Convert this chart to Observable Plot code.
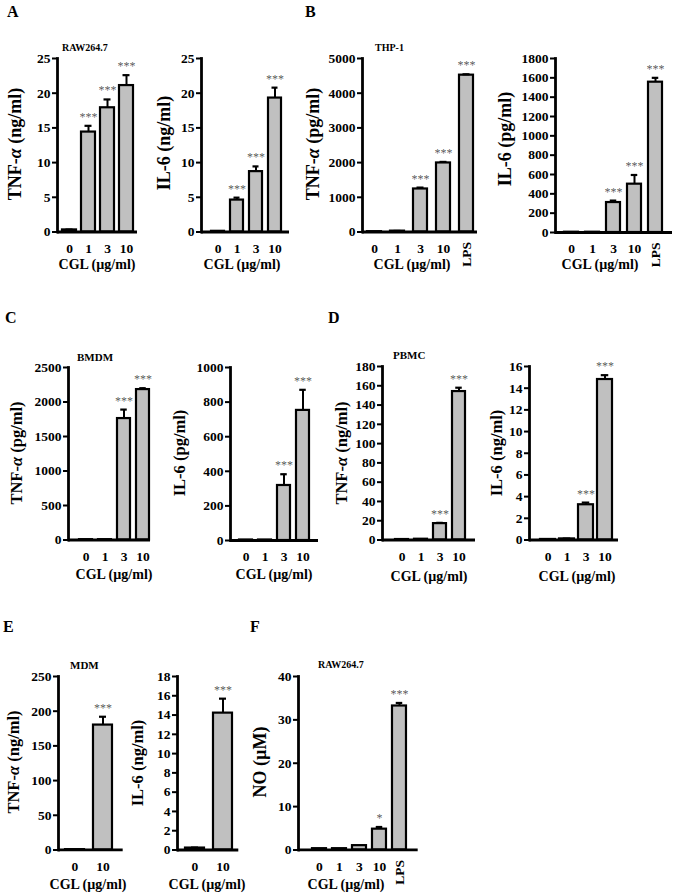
<!DOCTYPE html>
<html><head><meta charset="utf-8">
<script src="https://cdn.jsdelivr.net/npm/d3@7"></script>
<script src="https://cdn.jsdelivr.net/npm/@observablehq/plot@0.6"></script>
<style>
body{margin:0;background:#fff;}
#page{position:relative;width:675px;height:894px;overflow:hidden;background:#fff;font-family:'Liberation Serif','Times New Roman',serif;font-weight:bold;color:#000;}
#page svg{position:absolute;}
.t{position:absolute;white-space:nowrap;line-height:1;}
.yl{transform:translate(-50%,-50%) rotate(-90deg);}
.c{transform:translate(-50%,-50%);}
.l{transform:translateY(-50%);}
</style></head><body><div id="page"></div>
<script>
// ---------- data ----------
const dose4 = ["0","1","3","10"];
const dose5 = ["0","1","3","10","LPS"];
const dose2 = ["0","10"];

const aTnfMean = [0.3, 14.4, 17.9, 21.1];
const aTnfErr  = [0.05, 0.9, 1.2, 1.5];
const aTnfSig  = ["", "***", "***", "***"];
const aIl6Mean = [0.1, 4.6, 8.7, 19.3];
const aIl6Err  = [0, 0.35, 0.75, 1.5];
const aIl6Sig  = ["", "***", "***", "***"];

const bTnfMean = [10, 25, 1240, 1990, 4520];
const bTnfErr  = [0, 5, 40, 30, 25];
const bTnfSig  = ["", "", "***", "***", "***"];
const bIl6Mean = [3, 3, 310, 500, 1555];
const bIl6Err  = [0, 0, 20, 95, 45];
const bIl6Sig  = ["", "", "***", "***", "***"];

const cTnfMean = [5, 5, 1760, 2180];
const cTnfErr  = [0, 0, 130, 20];
const cTnfSig  = ["", "", "***", "***"];
const cIl6Mean = [3, 3, 318, 752];
const cIl6Err  = [0, 0, 65, 119];
const cIl6Sig  = ["", "", "***", "***"];

const dTnfMean = [0.5, 0.8, 17, 154];
const dTnfErr  = [0, 0, 0.8, 4];
const dTnfSig  = ["", "", "***", "***"];
const dIl6Mean = [0.05, 0.1, 3.25, 14.8];
const dIl6Err  = [0, 0.03, 0.2, 0.4];
const dIl6Sig  = ["", "", "***", "***"];

const eTnfMean = [0.5, 180];
const eTnfErr  = [0, 12];
const eTnfSig  = ["", "***"];
const eIl6Mean = [0.2, 14.2];
const eIl6Err  = [0.05, 1.5];
const eIl6Sig  = ["", "***"];

const fNoMean = [0.3, 0.3, 1.0, 4.8, 33.2];
const fNoErr  = [0, 0, 0, 0.5, 0.7];
const fNoSig  = ["", "", "", "*", "***"];

const ticks25   = [0, 5, 10, 15, 20, 25];
const ticks5000 = [0, 1000, 2000, 3000, 4000, 5000];
const ticks1800 = [0, 200, 400, 600, 800, 1000, 1200, 1400, 1600, 1800];
const ticks2500 = [0, 500, 1000, 1500, 2000, 2500];
const ticks1000 = [0, 200, 400, 600, 800, 1000];
const ticks180  = [0, 20, 40, 60, 80, 100, 120, 140, 160, 180];
const ticks16   = [0, 2, 4, 6, 8, 10, 12, 14, 16];
const ticks250  = [0, 50, 100, 150, 200, 250];
const ticks18   = [0, 2, 4, 6, 8, 10, 12, 14, 16, 18];
const ticks40   = [0, 10, 20, 30, 40];

// ---------- layout ----------
const charts = [
  {doses: dose4, mean: aTnfMean, err: aTnfErr, sig: aTnfSig, ticks: ticks25, axisX: 57, xEnd: 137, yTop: 58, y0: 231.5, first: 68, step: 19.5, bw: 14},
  {doses: dose4, mean: aIl6Mean, err: aIl6Err, sig: aIl6Sig, ticks: ticks25, axisX: 201, xEnd: 289, yTop: 58, y0: 231.5, first: 216.5, step: 19.8, bw: 14},
  {doses: dose5, mean: bTnfMean, err: bTnfErr, sig: bTnfSig, ticks: ticks5000, axisX: 362, xEnd: 477, yTop: 58, y0: 231.5, first: 372.5, step: 23.5, bw: 14},
  {doses: dose5, mean: bIl6Mean, err: bIl6Err, sig: bIl6Sig, ticks: ticks1800, axisX: 555, xEnd: 672, yTop: 58, y0: 232, first: 570.5, step: 21.3, bw: 14.5},
  {doses: dose4, mean: cTnfMean, err: cTnfErr, sig: cTnfSig, ticks: ticks2500, axisX: 68, xEnd: 150, yTop: 367, y0: 539.5, first: 85, step: 19.2, bw: 13.5},
  {doses: dose4, mean: cIl6Mean, err: cIl6Err, sig: cIl6Sig, ticks: ticks1000, axisX: 230, xEnd: 318, yTop: 367, y0: 540, first: 244.5, step: 19.8, bw: 13.5},
  {doses: dose4, mean: dTnfMean, err: dTnfErr, sig: dTnfSig, ticks: ticks180, axisX: 382, xEnd: 475, yTop: 366, y0: 539.5, first: 401, step: 19.5, bw: 13.5},
  {doses: dose4, mean: dIl6Mean, err: dIl6Err, sig: dIl6Sig, ticks: ticks16, axisX: 529, xEnd: 618, yTop: 366, y0: 539.5, first: 547.5, step: 19, bw: 14.5},
  {doses: dose2, mean: eTnfMean, err: eTnfErr, sig: eTnfSig, ticks: ticks250, axisX: 58.3, xEnd: 123, yTop: 676, y0: 849.5, first: 74, step: 28.5, bw: 19},
  {doses: dose2, mean: eIl6Mean, err: eIl6Err, sig: eIl6Sig, ticks: ticks18, axisX: 176.7, xEnd: 238, yTop: 676, y0: 849.5, first: 194, step: 28.5, bw: 19},
  {doses: dose5, mean: fNoMean, err: fNoErr, sig: fNoSig, ticks: ticks40, axisX: 298.3, xEnd: 418, yTop: 676, y0: 849.5, first: 318, step: 20.75, bw: 14.5}
];

const page = document.getElementById("page");
const FONT = "'Liberation Serif','Times New Roman',serif";

function makeChart(c) {
  const n = c.doses.length;
  const total = c.xEnd - c.axisX;
  const pi = 1 - c.bw / c.step;
  const po = (total / c.step - n + pi) / 2;
  const align = (c.first - c.bw / 2 - c.axisX) / (total - c.step * (n - pi));
  const ML = 50, MT = 28, MB = 34;
  const L = c.axisX - ML, T = c.yTop - MT;
  const W = c.xEnd - L + 6;
  const H = c.y0 - T + MB;
  const data = c.doses.map((d, i) => ({dose: d, value: c.mean[i], err: c.err[i], sig: c.sig[i]}));
  const withErr = data.filter(d => d.err > 0);
  const capInset = Math.max(0, (c.bw - 7) / 2);
  const numeric = c.doses.filter(d => d !== "LPS");
  const marks = [
    Plot.barY(data, {x: "dose", y: "value", fill: "#c0c0c0", stroke: "#000", strokeWidth: 2.2}),
    Plot.ruleX(withErr, {x: "dose", y1: "value", y2: d => d.value + d.err, stroke: "#000", strokeWidth: 2}),
    Plot.tickY(withErr, {x: "dose", y: d => d.value + d.err, stroke: "#000", strokeWidth: 2.2, insetLeft: capInset, insetRight: capInset}),
    Plot.text(data.filter(d => d.sig), {x: "dose", y: d => d.value + d.err, text: "sig", lineAnchor: "bottom", dy: -5, fill: "#555", fillOpacity: 0.99, fontSize: 12, fontWeight: "normal"}),
    Plot.ruleY([0], {stroke: "#000", strokeWidth: 2.8}),
    Plot.frame({anchor: "left", stroke: "#000", strokeWidth: 2.8}),
    Plot.axisY({ticks: c.ticks, tickSize: 5, tickPadding: 2, strokeWidth: 2, tickFormat: d => String(d), label: null, fontSize: 13.5, fontWeight: "bold"}),
    Plot.axisX(numeric, {tickSize: 0, tickPadding: 11, label: null, fontSize: 13.5, fontWeight: "bold"})
  ];
  if (c.doses.includes("LPS")) {
    marks.push(Plot.axisX(["LPS"], {tickSize: 0, tickPadding: 10, tickRotate: -90, label: null, fontSize: 13.5, fontWeight: "bold"}));
  }
  const svg = Plot.plot({
    width: W, height: H,
    marginLeft: ML, marginRight: W - (c.xEnd - L), marginTop: MT, marginBottom: MB,
    x: {type: "band", domain: c.doses, paddingInner: pi, paddingOuter: po, align},
    y: {domain: [0, c.ticks[c.ticks.length - 1]]},
    style: {background: "transparent", fontFamily: FONT, fontSize: "13.5px", fontWeight: "bold", color: "#000", overflow: "visible"},
    marks
  });
  svg.style.left = L + "px";
  svg.style.top = T + "px";
  page.appendChild(svg);
}
charts.forEach(makeChart);

// ---------- text ----------
function addText(html, x, y, size, cls) {
  const d = document.createElement("div");
  d.className = "t " + cls;
  d.style.left = x + "px";
  d.style.top = y + "px";
  d.style.fontSize = size + "px";
  d.innerHTML = html;
  page.appendChild(d);
}
const yLabels = [
  ["TNF-<i>α</i> (ng/ml)", 15, 144, 18],
  ["IL-6 (ng/ml)", 164, 143, 18],
  ["TNF-<i>α</i> (pg/ml)", 313, 144, 18],
  ["IL-6 (pg/ml)", 505, 139, 18],
  ["TNF-<i>α</i> (pg/ml)", 17, 453, 16.5],
  ["IL-6 (pg/ml)", 180, 453, 16.5],
  ["TNF-<i>α</i> (ng/ml)", 342, 453, 16.5],
  ["IL-6 (ng/ml)", 497, 453, 16.5],
  ["TNF-<i>α</i> (ng/ml)", 14, 762, 16.5],
  ["IL-6 (ng/ml)", 138, 763, 16.5],
  ["NO (µM)", 260, 762, 18]
];
yLabels.forEach(([t, x, y, s]) => addText(t, x, y, s, "yl"));

const xLabel = "CGL (µg/ml)";
const xLabelPos = [[97, 265], [242, 265], [412, 265], [600, 265], [114, 575], [274, 575], [429, 577], [577, 577], [88, 885], [207, 885], [346, 885]];
xLabelPos.forEach(([x, y]) => addText(xLabel, x, y, 14, "c"));

const cellNames = [["RAW264.7", 62, 48, 10], ["THP-1", 375, 48, 10], ["BMDM", 77, 357, 11], ["PBMC", 393, 355, 11], ["MDM", 70, 665, 11], ["RAW264.7", 318, 665, 10]];
cellNames.forEach(([t, x, y, s]) => addText(t, x, y, s, "l"));

const panelLetters = [["A", 7, 12], ["B", 305, 12], ["C", 5, 318], ["D", 328, 318], ["E", 3, 627], ["F", 250, 627]];
panelLetters.forEach(([t, x, y]) => addText(t, x, y, 16, "l"));
</script></body></html>
